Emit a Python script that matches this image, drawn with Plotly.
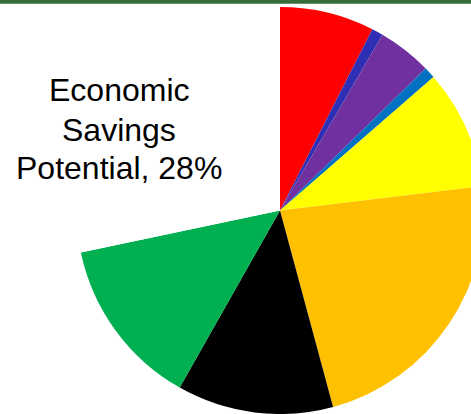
import plotly.graph_objects as go

# Slices clockwise from 12 o'clock (percent of total)
labels = ["Segment A", "Segment B", "Segment C", "Segment D", "Segment E",
          "Segment F", "Segment G", "Segment H", "Economic Savings Potential"]
values = [7.5, 0.9, 4.3, 0.9, 9.5, 22.7, 12.4, 13.5, 28.3]
colors = ["#FF0000", "#2F2FB5", "#7030A0", "#0070C0", "#FFFF00",
          "#FFC000", "#000000", "#00B050", "#FFFFFF"]
callout_lines = ["Economic", "Savings", "Potential, 28%"]

fig = go.Figure(go.Pie(
    labels=labels,
    values=values,
    sort=False,
    direction="clockwise",
    rotation=0,
    marker=dict(colors=colors, line=dict(width=0)),
    textinfo="none",
    hoverinfo="label+percent",
    showlegend=False,
))

H_PLOT = 407.0
TOP = 7.0
line_mid_px = [90.3, 129.7, 167.6]
for txt, ypx in zip(callout_lines, line_mid_px):
    fig.add_annotation(
        text=txt,
        x=(119 - 76) / 408.0, y=1 - (ypx - TOP) / H_PLOT,
        xref="paper", yref="paper",
        xanchor="center", yanchor="middle",
        showarrow=False,
        font=dict(family="Liberation Sans, Arial, sans-serif", size=32, color="#000000"),
    )

fig.add_shape(type="rect", xref="paper", yref="paper",
              x0=-0.3, x1=1.1, y0=1 + (TOP - 3.7) / H_PLOT, y1=1.05,
              line=dict(width=0), fillcolor="#356E3A", layer="above")

fig.update_layout(
    width=488, height=414,
    margin=dict(l=76, r=4, t=7, b=0),
    paper_bgcolor="#FFFFFF",
    plot_bgcolor="#FFFFFF",
)

fig.write_html(
    "out.html",
    config={"displayModeBar": False},
    post_script="document.body.style.margin='0';document.body.style.overflow='hidden';",
)
